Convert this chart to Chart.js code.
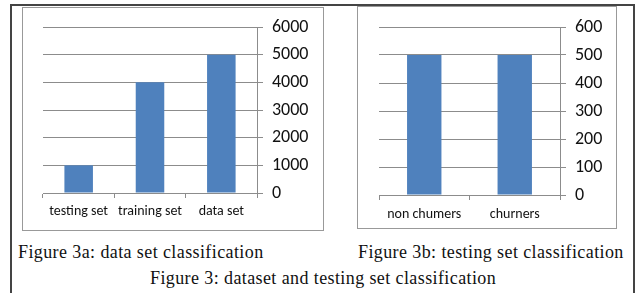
<!DOCTYPE html>
<html>
<head>
<meta charset="utf-8">
<script src="https://cdn.jsdelivr.net/npm/chart.js@4.4.0/dist/chart.umd.min.js"></script>
<style>
  body { margin: 0; background: #fff; width: 635px; height: 293px; overflow: hidden; position: relative; }
  .frame { position: absolute; left: 10px; top: 4px; width: 621px; height: 300px; border: 2px solid #444; border-bottom: none; }
  .box { position: absolute; border: 1px solid #999; background: #fff; }
  .box canvas { position: absolute; left: 0; top: 0; }
  .cap { position: absolute; font-family: "Liberation Serif", "Times New Roman", serif; font-size: 18px; letter-spacing: 0.4px; color: #111; white-space: nowrap; }
</style>
</head>
<body>
<div class="frame"></div>
<div class="box" style="left:22px; top:7px; width:300px; height:222px;"><canvas id="chartA"></canvas></div>
<div class="box" style="left:357px; top:6px; width:258px; height:221px;"><canvas id="chartB"></canvas></div>
<div class="cap" style="left:18px; top:242px;">Figure 3a: data set classification</div>
<div class="cap" style="left:358px; top:242px;">Figure 3b: testing set classification</div>
<div class="cap" style="left:150px; top:268px;">Figure 3: dataset and testing set classification</div>

<script>
// Figure 3a data
const setLabels = ['testing set', 'training set', 'data set'];
const setCounts = [1000, 4000, 5000];
const setTicks = [0, 1000, 2000, 3000, 4000, 5000, 6000];

// Figure 3b data
const churnLabels = ['non chumers', 'churners'];
const churnCounts = [500, 500];
const churnTicks = [0, 100, 200, 300, 400, 500, 600];

const barColor = '#4F81BD';
const gridColor = '#8c8c8c';
const fontFamily = 'Carlito, "Liberation Sans Narrow", "Liberation Sans", sans-serif';

function makeChart(id, w, h, labels, values, ticks, pad, yWidth, xHeight, xPad, barPct) {
  const canvas = document.getElementById(id);
  canvas.width = w;
  canvas.height = h;
  canvas.style.width = w + 'px';
  canvas.style.height = h + 'px';
  return new Chart(canvas, {
    type: 'bar',
    data: {
      labels: labels,
      datasets: [{
        data: values,
        backgroundColor: barColor,
        borderWidth: 0,
        categoryPercentage: 1,
        barPercentage: barPct,
      }],
    },
    options: {
      responsive: false,
      animation: false,
      layout: { padding: pad },
      plugins: { legend: { display: false }, tooltip: { enabled: false } },
      scales: {
        x: {
          grid: { offset: true, drawOnChartArea: false, color: gridColor, tickLength: 5 },
          border: { color: gridColor },
          ticks: { color: '#111', padding: xPad, autoSkip: false, minRotation: 0, maxRotation: 0, font: { family: fontFamily, size: 14 } },
          afterFit: (s) => { s.height = xHeight; s.paddingLeft = 0; s.paddingRight = 0; },
        },
        y: {
          position: 'right',
          min: ticks[0],
          max: ticks[ticks.length - 1],
          afterBuildTicks: (s) => { s.ticks = ticks.map(v => ({ value: v })); },
          grid: { color: gridColor, tickLength: 6 },
          border: { color: gridColor },
          ticks: { color: '#111', padding: 9, font: { family: fontFamily, size: 18 }, callback: (v) => String(v) },
          afterFit: (s) => { s.width = yWidth; s.paddingTop = 0; s.paddingBottom = 0; },
        },
      },
    },
  });
}

makeChart('chartA', 300, 222, setLabels, setCounts, setTicks, { left: 20, top: 19, right: 6, bottom: 3 }, 60, 34, 5, 0.4);
makeChart('chartB', 258, 221, churnLabels, churnCounts, churnTicks, { left: 21, top: 20, right: 10, bottom: 0 }, 46, 33, 6, 0.38);
</script>
</body>
</html>
